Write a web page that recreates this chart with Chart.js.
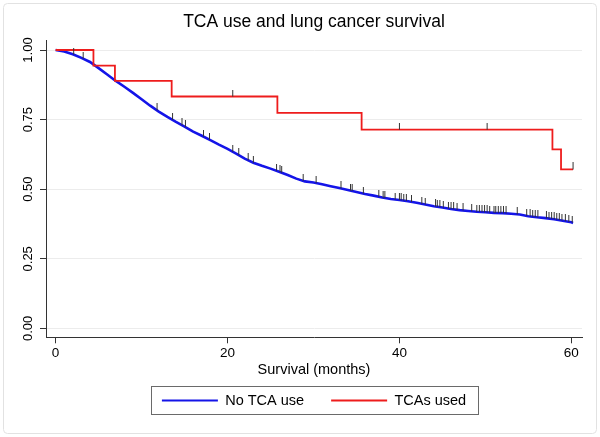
<!DOCTYPE html>
<html>
<head>
<meta charset="utf-8">
<title>TCA use and lung cancer survival</title>
<script src="https://cdn.jsdelivr.net/npm/chart.js@4.4.1/dist/chart.umd.min.js"></script>
<style>
  html, body { margin: 0; padding: 0; background: #fff; }
  #wrap { width: 600px; height: 437px; }
</style>
</head>
<body>
<div id="wrap"><canvas id="kmChart" width="600" height="437"></canvas></div>
<script>
// Kaplan-Meier estimates (months, survival)
const blueTime = [0, 1, 2, 3, 4, 5, 6, 7, 8, 9, 10, 11, 12, 13, 14, 15, 16, 17, 18, 19, 20,
  21, 22, 23, 24, 25, 26, 27, 28, 29, 30, 31, 32, 33, 34, 35, 36, 37, 38, 39, 40,
  41, 42, 43, 44, 45, 46, 47, 48, 49, 50, 51, 52, 53, 54, 55, 56, 57, 58, 59, 60, 60.2]
const blueSurv = [1.000, 0.995, 0.985, 0.972, 0.957, 0.935, 0.912, 0.889, 0.868, 0.846, 0.823,
  0.800, 0.779, 0.760, 0.742, 0.725, 0.707, 0.692, 0.676, 0.660, 0.645,
  0.628, 0.610, 0.595, 0.584, 0.574, 0.563, 0.551, 0.538, 0.528, 0.524,
  0.518, 0.511, 0.504, 0.497, 0.490, 0.483, 0.477, 0.470, 0.465, 0.461,
  0.457, 0.451, 0.445, 0.439, 0.434, 0.429, 0.425, 0.422, 0.419, 0.417,
  0.415, 0.414, 0.412, 0.409, 0.403, 0.399, 0.396, 0.392, 0.387, 0.381, 0.379]

const redTime = [0, 4.4, 6.9, 13.5, 25.8, 35.6, 57.8, 58.8, 60.2]
const redSurv = [1.000, 0.944, 0.889, 0.833, 0.774, 0.714, 0.643, 0.571, 0.571]

// censoring times (small tick marks on the curves)
const blueCensor = [2.1, 3.2, 11.8, 13.6, 14.7, 15.1, 17.2, 17.9, 20.6, 21.3, 22.4, 23.0,
  25.7, 26.1, 26.3, 28.8, 30.3, 33.2, 34.3, 34.5, 35.8, 37.6, 38.1, 38.3, 39.5, 40.0,
  40.2, 40.5, 40.8, 41.4, 42.6, 43.0, 44.2, 44.4, 44.7, 45.1, 45.7, 46.0, 46.3, 46.7,
  47.4, 48.4, 49.0, 49.3, 49.6, 49.9, 50.2, 50.5, 51.0, 51.2, 51.5, 51.8, 52.1, 52.4,
  53.7, 54.8, 55.2, 55.5, 55.8, 56.1, 57.1, 57.4, 57.7, 58.0, 58.3, 58.6, 58.9, 59.3,
  59.7, 60.1]
const redCensor = [20.6, 40.0, 50.2, 60.2]

const xTicks = [0, 20, 40, 60]
const yTicks = [0, 0.25, 0.5, 0.75, 1]
const seriesNames = ['No TCA use', 'TCAs used']
const seriesColors = ['#1414e8', '#ee1c1c']

// value of a curve at time t (linear for the blue line, step for the red one)
function curveAt(times, surv, t, stepped) {
  let i = 0
  while (i < times.length - 1 && times[i + 1] <= t) i++
  if (stepped || i === times.length - 1) return surv[i]
  const f = (t - times[i]) / (times[i + 1] - times[i])
  return surv[i] + f * (surv[i + 1] - surv[i])
}

// small vertical tick used as point style for censored cases
const tickMark = document.createElement('canvas')
tickMark.width = 3
tickMark.height = 14
const g = tickMark.getContext('2d')
g.fillStyle = '#333'
g.fillRect(1, 0, 1, 7)

// light frame round the graph and box round the legend
const frames = {
  id: 'frames',
  beforeDraw(chart) {
    const ctx = chart.ctx
    ctx.save()
    ctx.strokeStyle = '#e2e2e2'
    ctx.lineWidth = 1
    ctx.beginPath()
    ctx.roundRect(3.5, 3.5, 593, 430, 4)
    ctx.stroke()
    ctx.restore()
  },
  afterDraw(chart) {
    const boxes = chart.legend.legendHitBoxes
    if (!boxes || !boxes.length) return
    const first = boxes[0]
    const last = boxes[boxes.length - 1]
    const cy = first.top + first.height / 2
    const ctx = chart.ctx
    ctx.save()
    ctx.strokeStyle = '#6a6a6a'
    ctx.lineWidth = 1
    const left = Math.round(first.left - 11) + 0.5
    const right = Math.round(last.left + last.width + 12) + 0.5
    const top = Math.round(cy - 15) + 0.5
    ctx.strokeRect(left, top, right - left, 28)
    ctx.restore()
  }
}

Chart.defaults.font.family = "'Liberation Sans', Helvetica, Arial, sans-serif"
Chart.defaults.color = '#000'

const ctx = document.getElementById('kmChart').getContext('2d')

new Chart(ctx, {
  type: 'line',
  data: {
    datasets: [
      {
        label: seriesNames[0],
        data: blueTime.map((t, i) => ({ x: t, y: blueSurv[i] })),
        borderColor: seriesColors[0],
        borderWidth: 2.6,
        pointRadius: 0,
        order: 3,
      },
      {
        label: seriesNames[1],
        data: redTime.map((t, i) => ({ x: t, y: redSurv[i] })),
        borderColor: seriesColors[1],
        borderWidth: 1.8,
        stepped: 'before',
        pointRadius: 0,
        order: 2,
      },
      {
        label: 'censored',
        data: blueCensor.map((t) => ({ x: t, y: curveAt(blueTime, blueSurv, t, false) })),
        showLine: false,
        pointStyle: tickMark,
        pointRadius: 3,
        order: 1,
      },
      {
        label: 'censored',
        data: redCensor.map((t) => ({ x: t, y: curveAt(redTime, redSurv, t, true) })),
        showLine: false,
        pointStyle: tickMark,
        pointRadius: 3,
        order: 0,
      },
    ],
  },
  options: {
    responsive: false,
    devicePixelRatio: 1,
    animation: false,
    events: [],
    layout: {
      padding: { top: 0, right: 18, bottom: 19.2, left: 0 },
    },
    scales: {
      x: {
        type: 'linear',
        min: -1.12,
        max: 61.24,
        afterBuildTicks: (scale) => { scale.ticks = xTicks.map((v) => ({ value: v })) },
        afterFit: (scale) => { scale.height = 29 },
        ticks: {
          padding: 2,
          maxRotation: 0,
          font: { size: 13.5 },
          color: '#000',
          callback: (v) => String(v),
        },
        grid: {
          drawOnChartArea: false,
          tickLength: 6,
          tickColor: '#333',
        },
        border: { display: true, color: '#333', width: 1 },
        title: {
          display: true,
          text: 'Survival (months)',
          font: { size: 14.5 },
          color: '#000',
          padding: { top: 0, bottom: -12.4 },
        },
      },
      y: {
        type: 'linear',
        min: -0.032,
        max: 1.036,
        afterBuildTicks: (scale) => { scale.ticks = yTicks.map((v) => ({ value: v })) },
        afterFit: (scale) => { scale.width = 46 },
        ticks: {
          minRotation: 90,
          maxRotation: 90,
          crossAlign: 'center',
          padding: -1.5,
          font: { size: 13 },
          color: '#000',
          callback: (v) => v.toFixed(2),
        },
        grid: {
          color: '#ececec',
          tickLength: 6,
          tickColor: '#333',
        },
        border: { display: true, color: '#333', width: 1 },
      },
    },
    plugins: {
      title: {
        display: true,
        text: 'TCA use and lung cancer survival',
        fullSize: false,
        color: '#000',
        font: { size: 17.5, weight: 'normal' },
        padding: { top: 12, bottom: 7 },
      },
      legend: {
        position: 'bottom',
        fullSize: false,
        labels: {
          usePointStyle: true,
          pointStyleWidth: 56,
          padding: 27,
          color: '#000',
          font: { size: 14.5 },
          generateLabels: () => seriesNames.map((name, i) => ({
            text: name,
            fillStyle: seriesColors[i],
            strokeStyle: seriesColors[i],
            lineWidth: 2,
            pointStyle: 'line',
            hidden: false,
            datasetIndex: i,
          })),
        },
      },
      tooltip: { enabled: false },
    },
  },
  plugins: [frames],
})
</script>
</body>
</html>
